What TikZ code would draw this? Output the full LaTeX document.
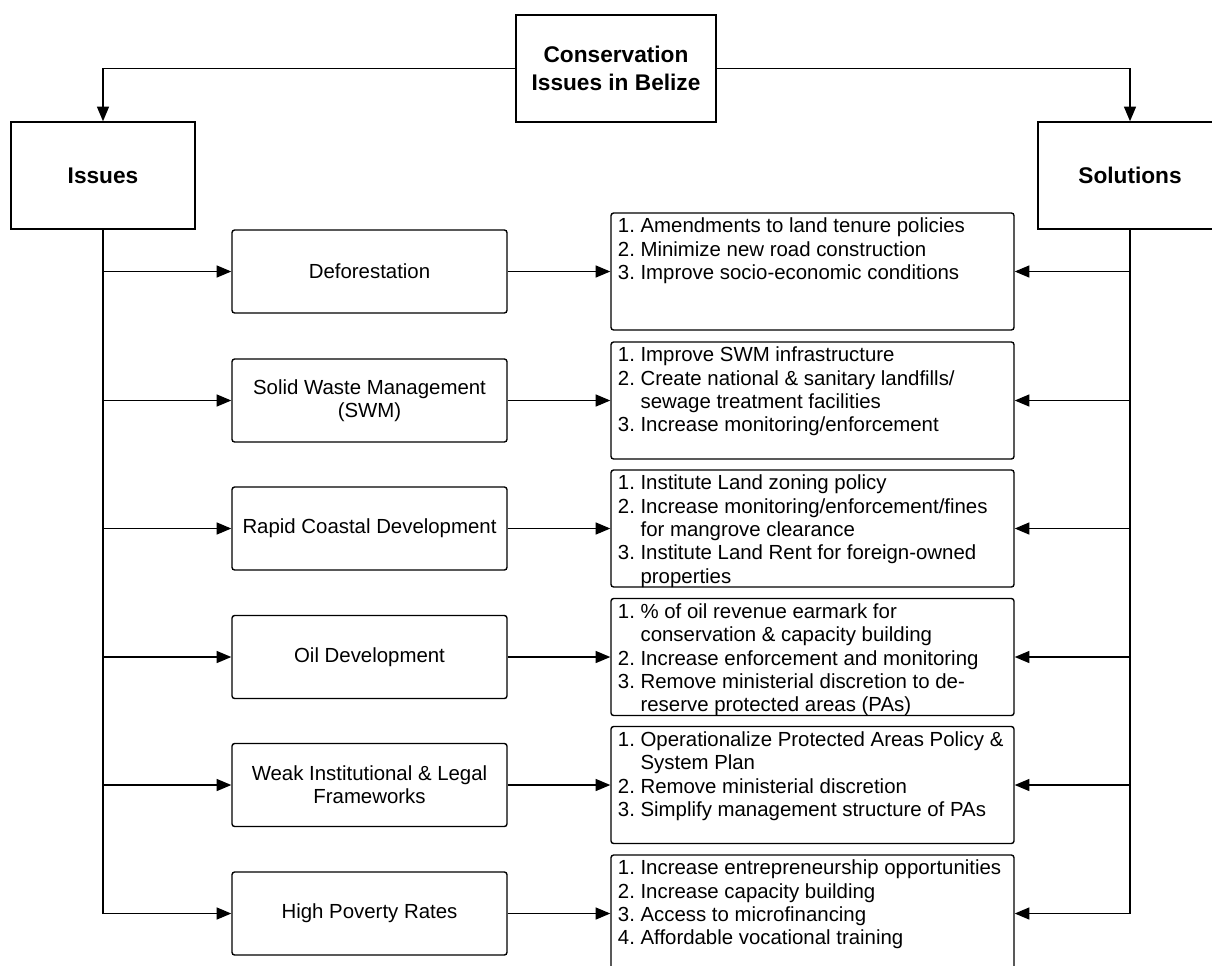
\documentclass[tikz,border=0pt]{standalone}
\usepackage{fontspec}
\setmainfont{Liberation Sans}
\usetikzlibrary{arrows.meta}

\tikzset{
  headbox/.style={draw, line width=1.1pt, align=center,
    font=\fontsize{17}{21}\selectfont\bfseries},
  issuebox/.style={draw, line width=1.05pt, rounded corners=2pt, align=center,
    minimum width=206.25pt, minimum height=62.25pt,
    font=\fontsize{15.3}{17.5}\selectfont},
  solbox/.style={draw, line width=1.05pt, rounded corners=2pt,
    minimum width=302.25pt, minimum height=87.75pt},
  soltext/.style={anchor=north west, inner xsep=5.5pt, inner ysep=3pt,
    font=\fontsize{15.3}{17.5}\selectfont},
  arr/.style={line width=1.05pt, -{Triangle[length=11pt,width=9pt]}},
}

\begin{document}
\begin{tikzpicture}[x=0.75pt,y=-0.75pt]
  % Frame of the picture
  \useasboundingbox (0,0) rectangle (1212,965);
  \clip (0,0) rectangle (1212,965);

  % Top and side headers
  \node[headbox, minimum width=150pt, minimum height=80.25pt] (title) at (616,68.5)
    {Conservation\\Issues in Belize};
  \node[headbox, minimum width=138pt, minimum height=80.25pt] (issues) at (103,175.5) {Issues};
  \node[headbox, minimum width=138pt, minimum height=80.25pt] (solutions) at (1130,175.5) {Solutions};

  % Issues
  \node[issuebox] (iss1) at (369.5,271.5) {Deforestation};
  \node[issuebox] (iss2) at (369.5,400.5) {Solid Waste Management\\(SWM)};
  \node[issuebox] (iss3) at (369.5,528.5) {Rapid Coastal Development};
  \node[issuebox] (iss4) at (369.5,657) {Oil Development};
  \node[issuebox] (iss5) at (369.5,785) {Weak Institutional \& Legal\\Frameworks};
  \node[issuebox] (iss6) at (369.5,913.5) {High Poverty Rates};

  % Solutions
  \node[solbox] (sol1) at (812.5,271.5) {};
  \node[soltext] (sol1txt) at (sol1.north west) {\begin{tabular}{@{}l@{\ }l@{}}
    1. & Amendments to land tenure policies\\
    2. & Minimize new road construction\\
    3. & Improve socio-economic conditions
  \end{tabular}};

  \node[solbox] (sol2) at (812.5,400.5) {};
  \node[soltext] (sol2txt) at (sol2.north west) {\begin{tabular}{@{}l@{\ }l@{}}
    1. & Improve SWM infrastructure\\
    2. & Create national \& sanitary landfills/\\
       & sewage treatment facilities\\
    3. & Increase monitoring/enforcement
  \end{tabular}};

  \node[solbox] (sol3) at (812.5,528.5) {};
  \node[soltext] (sol3txt) at (sol3.north west) {\begin{tabular}{@{}l@{\ }l@{}}
    1. & Institute Land zoning policy\\
    2. & Increase monitoring/enforcement/fines\\
       & for mangrove clearance\\
    3. & Institute Land Rent for foreign-owned\\
       & properties
  \end{tabular}};

  \node[solbox] (sol4) at (812.5,657) {};
  \node[soltext] (sol4txt) at (sol4.north west) {\begin{tabular}{@{}l@{\ }l@{}}
    1. & \% of oil revenue earmark for\\
       & conservation \& capacity building\\
    2. & Increase enforcement and monitoring\\
    3. & Remove ministerial discretion to de-\\
       & reserve protected areas (PAs)
  \end{tabular}};

  \node[solbox] (sol5) at (812.5,785) {};
  \node[soltext] (sol5txt) at (sol5.north west) {\begin{tabular}{@{}l@{\ }l@{}}
    1. & Operationalize Protected Areas Policy \&\\
       & System Plan\\
    2. & Remove ministerial discretion\\
    3. & Simplify management structure of PAs
  \end{tabular}};

  \node[solbox] (sol6) at (812.5,913.5) {};
  \node[soltext] (sol6txt) at (sol6.north west) {\begin{tabular}{@{}l@{\ }l@{}}
    1. & Increase entrepreneurship opportunities\\
    2. & Increase capacity building\\
    3. & Access to microfinancing\\
    4. & Affordable vocational training
  \end{tabular}};

  % Title to headers
  \draw[arr] (title.west) -| (issues.north);
  \draw[arr] (title.east) -| (solutions.north);

  % Trunk lines
  \draw[arr] (issues.south) |- (iss6.west);
  \draw[arr] (solutions.south) |- (sol6.east);
  \foreach \i in {1,...,5} {
    \draw[arr] (issues.south |- iss\i.west) -- (iss\i.west);
    \draw[arr] (solutions.south |- sol\i.east) -- (sol\i.east);
  }

  % Issue to solution
  \foreach \i in {1,...,6}
    \draw[arr] (iss\i.east) -- (sol\i.west);
\end{tikzpicture}
\end{document}
